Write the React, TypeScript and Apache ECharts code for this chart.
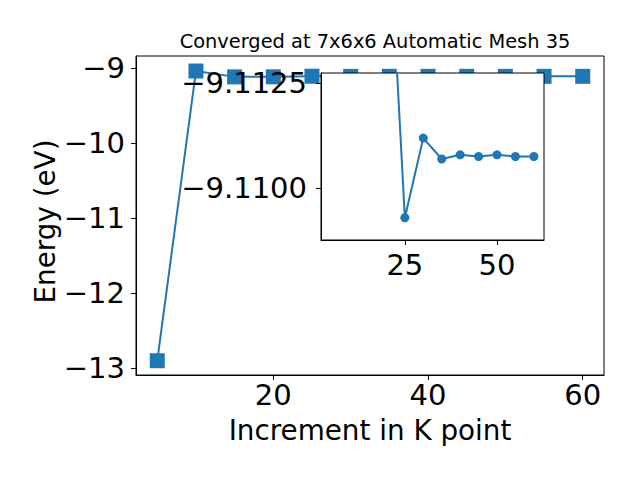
import React, { useEffect, useRef } from "react";
import * as echarts from "echarts";

const kPoints = [5, 10, 15, 20, 25, 30, 35, 40, 45, 50, 55, 60];
const energies = [
  -12.9, -9.04, -9.118, -9.1175, -9.1093, -9.1112, -9.1107, -9.1108, -9.11076, -9.1108, -9.11076,
  -9.11076,
];
// the inset only plots the converged tail (from the 4th k-point on)
const insetStart = 3;
const mainXTicks = [20, 40, 60];
const mainYTicks = [-13, -12, -11, -10, -9];
const insetXTicks = [25, 50];
const insetYTicks = [-9.1125, -9.11];

const titleText = "Converged at 7x6x6 Automatic Mesh 35";
const xName = "Increment in K point";
const yName = "Energy (eV)";

const FONT = "DejaVu Sans";
const BLUE = "#1f77b4";
const TICK_FS = 29;
const NAME_FS = 27.8;

const fmtMinus = (s: string) => s.replace("-", "\u2212");

export default function App() {
  const ref = useRef<HTMLDivElement>(null);
  useEffect(() => {
    if (!ref.current) return;
    const chart = echarts.init(ref.current, undefined, { renderer: "svg" });
    const pts = kPoints.map((k, i) => [k, energies[i]]);
    const insetPts = pts.slice(insetStart);
    const axisCommon = {
      type: "value" as const,
      splitLine: { show: false },
      axisLine: { show: true, onZero: false, lineStyle: { color: "#000", width: 1 } },
      axisTick: { show: true, inside: false, length: 5, lineStyle: { color: "#000", width: 1 } },
    };
    const labelCommon = { fontFamily: FONT, fontSize: TICK_FS, color: "#000" };
    chart.setOption({
      animation: false,
      textStyle: { fontFamily: FONT },
      title: {
        text: titleText,
        left: 370,
        textAlign: "center",
        top: 27,
        textStyle: { fontFamily: FONT, fontSize: 19.4, fontWeight: "normal", color: "#000" },
      },
      grid: [
        {
          left: 136,
          top: 56,
          width: 468,
          height: 319,
          show: true,
          borderColor: "#000",
          borderWidth: 1,
          backgroundColor: "transparent",
          containLabel: false,
        },
        {
          left: 321,
          top: 73,
          width: 223,
          height: 167,
          show: true,
          borderColor: "#000",
          borderWidth: 1,
          backgroundColor: "#fff",
          z: 3,
          containLabel: false,
        },
      ],
      xAxis: [
        {
          ...axisCommon,
          gridIndex: 0,
          min: 2.25,
          max: 62.75,
          name: xName,
          nameLocation: "middle",
          nameGap: 41,
          nameMoveOverlap: false,
          nameTextStyle: { fontFamily: FONT, fontSize: NAME_FS, color: "#000" },
          axisTick: { ...axisCommon.axisTick, customValues: mainXTicks },
          axisLabel: {
            ...labelCommon,
            customValues: mainXTicks,
            margin: 5,
            formatter: (v: number) => fmtMinus(String(v)),
          },
        },
        {
          ...axisCommon,
          gridIndex: 1,
          min: 2.25,
          max: 62.75,
          z: 6,
          axisTick: { ...axisCommon.axisTick, customValues: insetXTicks },
          axisLabel: {
            ...labelCommon,
            customValues: insetXTicks,
            margin: 10,
            formatter: (v: number) => fmtMinus(String(v)),
          },
        },
      ],
      yAxis: [
        {
          ...axisCommon,
          gridIndex: 0,
          min: -13.09,
          max: -8.84,
          name: yName,
          nameLocation: "middle",
          nameGap: 77,
          nameMoveOverlap: false,
          nameTextStyle: {
            fontFamily: FONT,
            fontSize: NAME_FS,
            color: "#000",
            padding: [0, 12, 0, 0],
          },
          axisTick: { ...axisCommon.axisTick, customValues: mainYTicks },
          axisLabel: {
            ...labelCommon,
            customValues: mainYTicks,
            margin: 11,
            formatter: (v: number) => fmtMinus(String(v)),
          },
        },
        {
          ...axisCommon,
          gridIndex: 1,
          min: -9.11275,
          max: -9.10877,
          inverse: true,
          z: 6,
          axisTick: { ...axisCommon.axisTick, customValues: insetYTicks },
          axisLabel: {
            ...labelCommon,
            customValues: insetYTicks,
            margin: 14,
            formatter: (v: number) => fmtMinus(v.toFixed(4)),
          },
        },
      ],
      series: [
        {
          type: "line",
          xAxisIndex: 0,
          yAxisIndex: 0,
          data: pts,
          z: 2,
          symbol: "rect",
          symbolSize: 15,
          lineStyle: { color: BLUE, width: 2 },
          itemStyle: { color: BLUE },
          silent: true,
        },
        {
          type: "line",
          xAxisIndex: 1,
          yAxisIndex: 1,
          data: insetPts,
          z: 5,
          clip: true,
          symbol: "circle",
          symbolSize: 9,
          lineStyle: { color: BLUE, width: 2 },
          itemStyle: { color: BLUE },
          silent: true,
        },
      ],
    });
    return () => chart.dispose();
  }, []);
  return (
    <div
      ref={ref}
      style={{ position: "absolute", left: 0, top: 0, width: 640, height: 480 }}
    />
  );
}
